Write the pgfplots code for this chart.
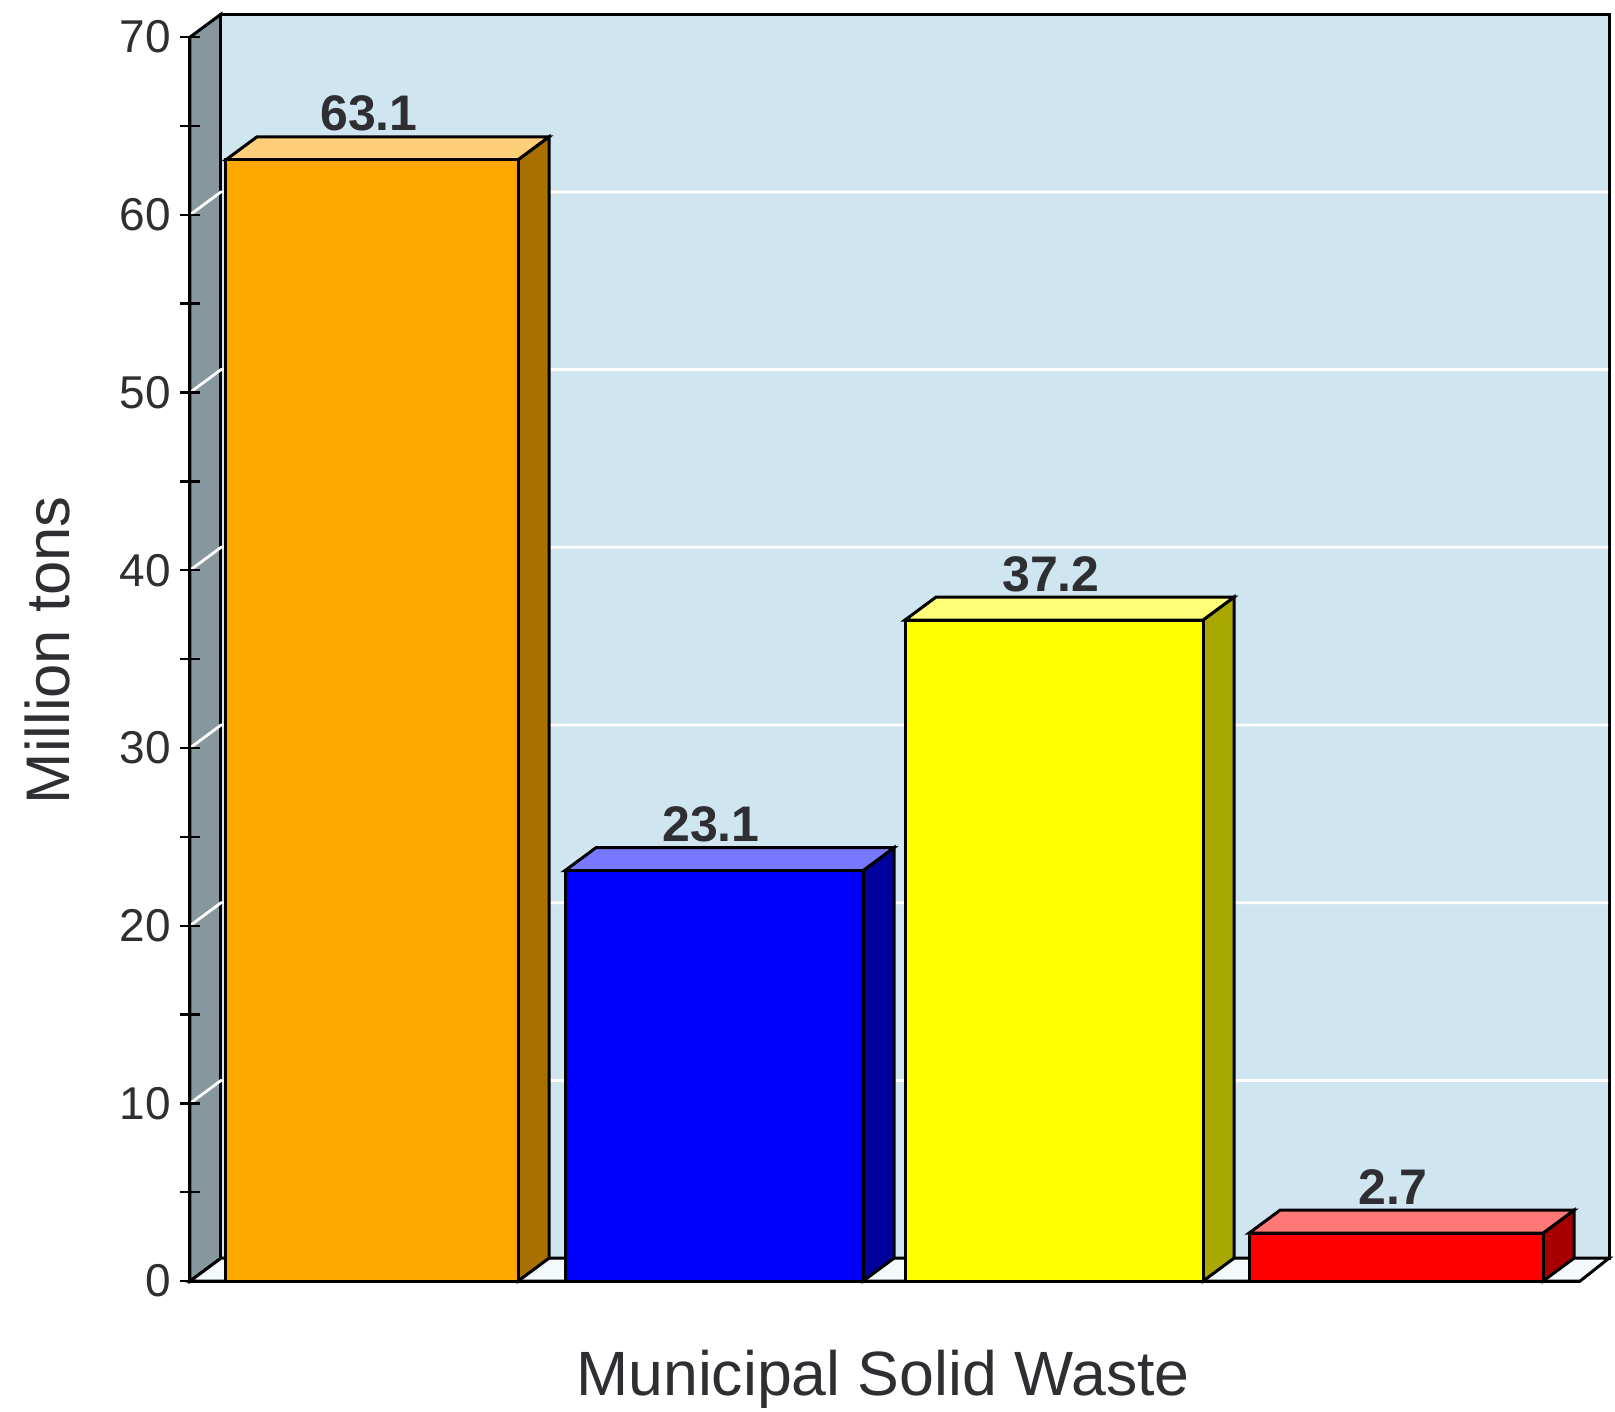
\documentclass[border=0pt]{standalone}
\usepackage{fontspec}
\setmainfont{Liberation Sans}
\usepackage{pgfplots}
\pgfplotsset{compat=1.18}
% colours
\definecolor{wall}{HTML}{CFE6F0}
\definecolor{sidewall}{HTML}{87979E}
\definecolor{floorc}{HTML}{F4FAFB}
\definecolor{txt}{HTML}{2E2E33}
\definecolor{orangeF}{HTML}{FFA800}
\definecolor{orangeT}{HTML}{FFCE78}
\definecolor{orangeS}{HTML}{A87000}
\definecolor{blueF}{HTML}{0000FF}
\definecolor{blueT}{HTML}{7878FF}
\definecolor{blueS}{HTML}{00009C}
\definecolor{yellowF}{HTML}{FFFF00}
\definecolor{yellowT}{HTML}{FFFF78}
\definecolor{yellowS}{HTML}{A8A800}
\definecolor{redF}{HTML}{FF0000}
\definecolor{redT}{HTML}{FF7878}
\definecolor{redS}{HTML}{A80000}
\pgfplotsset{
  face/.style={draw=black,line width=1.5pt,line join=miter},
  grid3d/.style={white,line width=1.4pt,forget plot},
  value/.style={ybar,nodes near coords,
    every node near coord/.style={anchor=base,yshift=14.5pt,xshift=-1.5pt,
      font=\fontsize{25}{25}\selectfont\bfseries,text=txt,inner sep=0pt,
      /pgf/number format/fixed,/pgf/number format/fixed zerofill,/pgf/number format/precision=1}},
}
\begin{document}
\begin{tikzpicture}
\begin{axis}[
  scale only axis,width=695pt,height=622pt,
  xmin=190,xmax=1580,ymin=0,ymax=70,
  clip=false,axis on top,
  axis lines=left,axis line style={-,line width=1.5pt,black},
  xtick=\empty,ytick={0,10,...,70},minor y tick num=1,
  tick align=center,major tick length=10pt,minor tick length=10pt,
  tick style={black,line width=1.2pt},
  /pgf/number format/assume math mode=true,
  ticklabel style={font=\fontsize{23}{23}\selectfont,text=txt},
  yticklabel style={xshift=-1pt},
  xlabel={Municipal Solid Waste},ylabel={Million tons},
  every axis x label/.style={at={(axis cs:883,-5.55)},anchor=center,inner sep=0pt,overlay,
    font=\fontsize{31.3}{31.3}\selectfont,text=txt},
  every axis y label/.style={at={(axis cs:47,35.5)},anchor=center,rotate=90,inner sep=0pt,
    font=\fontsize{30.8}{30.8}\selectfont,text=txt},
]
% side wall, back wall, floor
\addplot[fill=sidewall,face,forget plot] coordinates {(190,0)(221,1.29)(221,71.29)(190,70)} --cycle;
\addplot[fill=wall,face,forget plot] coordinates {(221,1.29)(1609,1.29)(1609,71.29)(221,71.29)} --cycle;
\addplot[fill=floorc,face,forget plot] coordinates {(190,0)(221,1.29)(1609,1.29)(1580,0)} --cycle;
% gridlines, back wall then side wall
\addplot[grid3d] coordinates {(190,10)(221,11.29)(1608,11.29)};
\addplot[grid3d] coordinates {(190,20)(221,21.29)(1608,21.29)};
\addplot[grid3d] coordinates {(190,30)(221,31.29)(1608,31.29)};
\addplot[grid3d] coordinates {(190,40)(221,41.29)(1608,41.29)};
\addplot[grid3d] coordinates {(190,50)(221,51.29)(1608,51.29)};
\addplot[grid3d] coordinates {(190,60)(221,61.29)(1608,61.29)};
% orange
\addplot[fill=orangeS,face,forget plot] coordinates {(518,0)(549,1.29)(549,64.39)(518,63.1)} --cycle;
\addplot[fill=orangeT,face,forget plot] coordinates {(226,63.1)(257,64.39)(549,64.39)(518,63.1)} --cycle;
\addplot[value,bar width=292,fill=orangeF,face] coordinates {(372,63.1)};
% blue
\addplot[fill=blueS,face,forget plot] coordinates {(863,0)(894,1.29)(894,24.39)(863,23.1)} --cycle;
\addplot[fill=blueT,face,forget plot] coordinates {(565,23.1)(596,24.39)(894,24.39)(863,23.1)} --cycle;
\addplot[value,bar width=298,fill=blueF,face] coordinates {(714,23.1)};
% yellow
\addplot[fill=yellowS,face,forget plot] coordinates {(1203,0)(1234,1.29)(1234,38.49)(1203,37.2)} --cycle;
\addplot[fill=yellowT,face,forget plot] coordinates {(905,37.2)(936,38.49)(1234,38.49)(1203,37.2)} --cycle;
\addplot[value,bar width=298,fill=yellowF,face] coordinates {(1054,37.2)};
% red
\addplot[fill=redS,face,forget plot] coordinates {(1543,0)(1574,1.29)(1574,3.99)(1543,2.7)} --cycle;
\addplot[fill=redT,face,forget plot] coordinates {(1249,2.7)(1280,3.99)(1574,3.99)(1543,2.7)} --cycle;
\addplot[value,bar width=294,fill=redF,face] coordinates {(1396,2.7)};
% page extent of the reference
\path (axis cs:0,-7.32) rectangle (axis cs:1615,72.09);
\end{axis}
\end{tikzpicture}
\end{document}
